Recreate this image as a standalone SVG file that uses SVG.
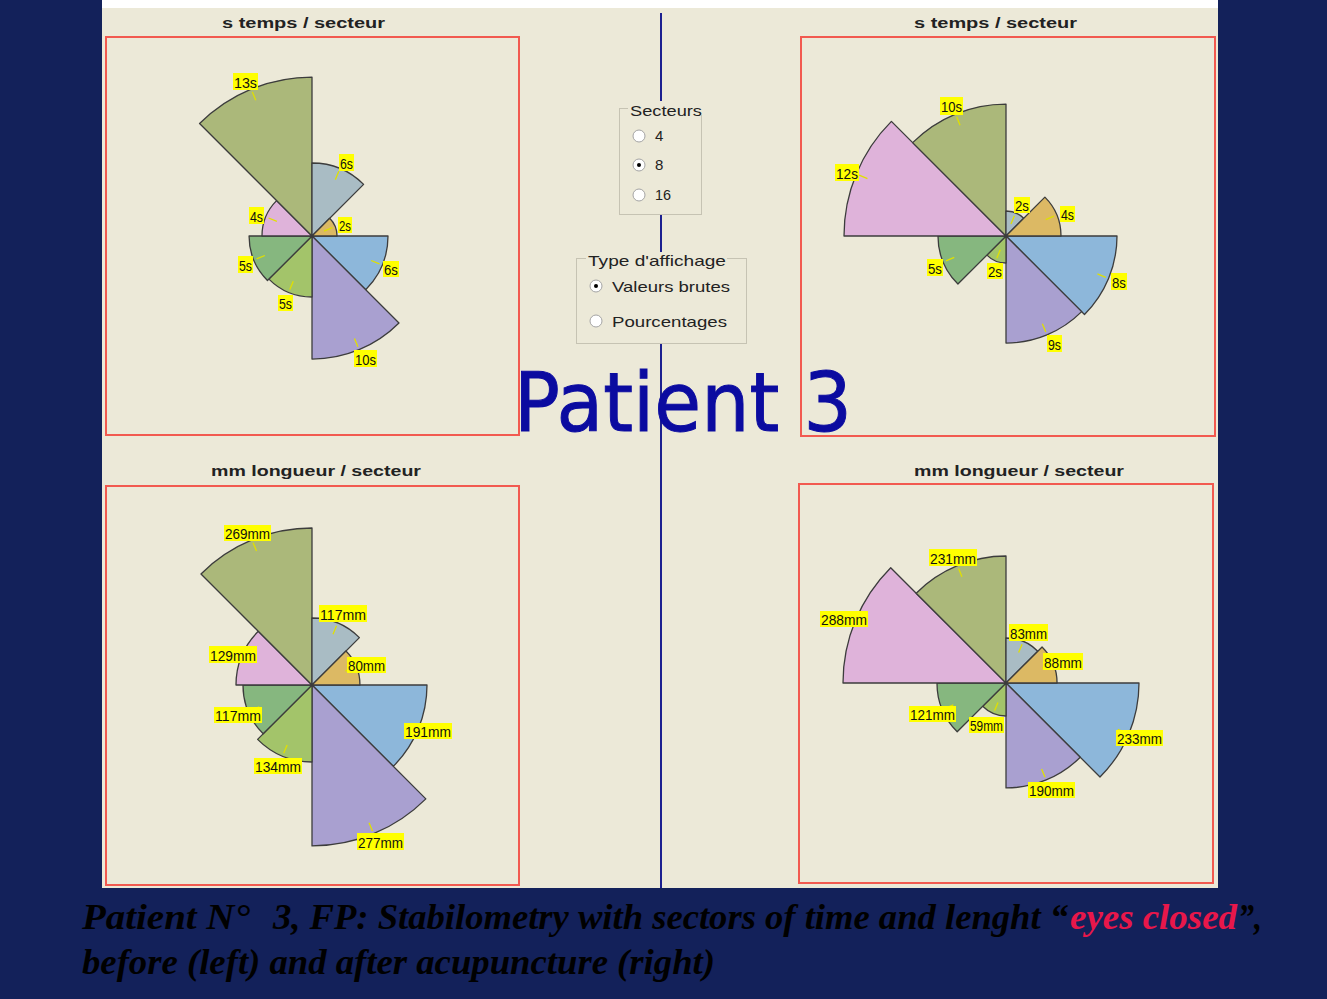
<svg xmlns="http://www.w3.org/2000/svg" width="1327" height="999" viewBox="0 0 1327 999">
<defs>
<style>
.s{stroke:#3c3c3c;stroke-width:1.3;stroke-linejoin:round}
.c1{fill:#8DB7DA}.c2{fill:#A9A0D0}.c3{fill:#A3C46A}.c4{fill:#86B77F}.c5{fill:#DFB3DA}.c6{fill:#ABB87A}.c7{fill:#A9BCC4}.c8{fill:#DCB964}
.frame{fill:none;stroke:#F25A50;stroke-width:2}
.ttl{font-family:"Liberation Sans",Arial,sans-serif;font-weight:bold;font-size:14px;fill:#222}
.lb rect{fill:#FFFF00}
.lb text{font-family:"Liberation Sans",Arial,sans-serif;font-size:15.5px;fill:#111}
.tk{stroke:#E0E000;stroke-width:1.3}
.gb{fill:#ECE9D8;stroke:#C6C3B3;stroke-width:1}
.ui{font-family:"Liberation Sans",Arial,sans-serif;font-size:15px;fill:#222}
.rd{fill:#fff;stroke:#A4A4A4;stroke-width:1}
.cap{font-family:"Liberation Serif","Times New Roman",serif;font-style:italic;font-weight:bold;font-size:35px;fill:#000}
</style>
</defs>
<rect x="0" y="0" width="1327" height="999" fill="#13215A"/>
<rect x="102" y="0" width="1116" height="8" fill="#FFFFFF"/>
<rect x="102" y="8" width="1116" height="880" fill="#ECE9D8"/>
<line x1="661" y1="13" x2="661" y2="888" stroke="#1C2090" stroke-width="2"/>

<!-- Top-left chart -->
<g id="chart-time-before">
<text class="ttl" x="222" y="28" textLength="163" lengthAdjust="spacingAndGlyphs">s temps / secteur</text>
<rect class="frame" x="106" y="37" width="413" height="398"/>
<g transform="translate(312,236)">
<path class="s c1" d="M0,0H76A76,76 0 0 1 53.7,53.7Z"/>
<path class="s c2" transform="rotate(45)" d="M0,0H123A123,123 0 0 1 87,87Z"/>
<path class="s c3" transform="rotate(90)" d="M0,0H61A61,61 0 0 1 43.1,43.1Z"/>
<path class="s c4" transform="rotate(135)" d="M0,0H63A63,63 0 0 1 44.5,44.5Z"/>
<path class="s c5" transform="rotate(180)" d="M0,0H50A50,50 0 0 1 35.4,35.4Z"/>
<path class="s c6" transform="rotate(225)" d="M0,0H159A159,159 0 0 1 112.4,112.4Z"/>
<path class="s c7" transform="rotate(270)" d="M0,0H73A73,73 0 0 1 51.6,51.6Z"/>
<path class="s c8" transform="rotate(315)" d="M0,0H25A25,25 0 0 1 17.7,17.7Z"/>
<line class="tk" x1="64" x2="73" transform="rotate(22.5)"/>
<line class="tk" x1="111" x2="120" transform="rotate(67.5)"/>
<line class="tk" x1="49" x2="58" transform="rotate(112.5)"/>
<line class="tk" x1="51" x2="60" transform="rotate(157.5)"/>
<line class="tk" x1="38" x2="47" transform="rotate(202.5)"/>
<line class="tk" x1="147" x2="156" transform="rotate(247.5)"/>
<line class="tk" x1="61" x2="70" transform="rotate(292.5)"/>
<line class="tk" x1="13" x2="22" transform="rotate(337.5)"/>
</g>
<g class="lb">
<rect x="233" y="73" width="25" height="17"/><text x="234" y="87.5" textLength="23" lengthAdjust="spacingAndGlyphs">13s</text>
<rect x="339" y="154" width="15" height="17"/><text x="340" y="168.5" textLength="13" lengthAdjust="spacingAndGlyphs">6s</text>
<rect x="249" y="207" width="15" height="17"/><text x="250" y="221.5" textLength="13" lengthAdjust="spacingAndGlyphs">4s</text>
<rect x="338" y="217" width="14" height="16"/><text x="339" y="231" textLength="12" lengthAdjust="spacingAndGlyphs">2s</text>
<rect x="238" y="256" width="15" height="17"/><text x="239" y="270.5" textLength="13" lengthAdjust="spacingAndGlyphs">5s</text>
<rect x="383" y="261" width="16" height="16"/><text x="384" y="275" textLength="14" lengthAdjust="spacingAndGlyphs">6s</text>
<rect x="278" y="295" width="15" height="16"/><text x="279" y="309" textLength="13" lengthAdjust="spacingAndGlyphs">5s</text>
<rect x="354" y="350" width="23" height="17"/><text x="355" y="364.5" textLength="21" lengthAdjust="spacingAndGlyphs">10s</text>
</g>
</g>

<!-- Top-right chart -->
<g id="chart-time-after">
<text class="ttl" x="914" y="28" textLength="163" lengthAdjust="spacingAndGlyphs">s temps / secteur</text>
<rect class="frame" x="801" y="37" width="414" height="399"/>
<g transform="translate(1006,236)">
<path class="s c1" d="M0,0H111A111,111 0 0 1 78.5,78.5Z"/>
<path class="s c2" transform="rotate(45)" d="M0,0H107A107,107 0 0 1 75.7,75.7Z"/>
<path class="s c3" transform="rotate(90)" d="M0,0H27A27,27 0 0 1 19.1,19.1Z"/>
<path class="s c4" transform="rotate(135)" d="M0,0H68A68,68 0 0 1 48.1,48.1Z"/>
<path class="s c5" transform="rotate(180)" d="M0,0H162A162,162 0 0 1 114.6,114.6Z"/>
<path class="s c6" transform="rotate(225)" d="M0,0H132A132,132 0 0 1 93.3,93.3Z"/>
<path class="s c7" transform="rotate(270)" d="M0,0H25A25,25 0 0 1 17.7,17.7Z"/>
<path class="s c8" transform="rotate(315)" d="M0,0H55A55,55 0 0 1 38.9,38.9Z"/>
<line class="tk" x1="99" x2="108" transform="rotate(22.5)"/>
<line class="tk" x1="95" x2="104" transform="rotate(67.5)"/>
<line class="tk" x1="15" x2="24" transform="rotate(112.5)"/>
<line class="tk" x1="56" x2="65" transform="rotate(157.5)"/>
<line class="tk" x1="150" x2="159" transform="rotate(202.5)"/>
<line class="tk" x1="120" x2="129" transform="rotate(247.5)"/>
<line class="tk" x1="13" x2="22" transform="rotate(292.5)"/>
<line class="tk" x1="43" x2="52" transform="rotate(337.5)"/>
</g>
<g class="lb">
<rect x="940" y="97" width="23" height="18"/><text x="941" y="111.5" textLength="21" lengthAdjust="spacingAndGlyphs">10s</text>
<rect x="835" y="164" width="24" height="17"/><text x="836" y="178.5" textLength="22" lengthAdjust="spacingAndGlyphs">12s</text>
<rect x="1014" y="197" width="16" height="16"/><text x="1015" y="211" textLength="14" lengthAdjust="spacingAndGlyphs">2s</text>
<rect x="1060" y="206" width="15" height="16"/><text x="1061" y="220" textLength="13" lengthAdjust="spacingAndGlyphs">4s</text>
<rect x="927" y="259" width="16" height="17"/><text x="928" y="273.5" textLength="14" lengthAdjust="spacingAndGlyphs">5s</text>
<rect x="987" y="263" width="16" height="16"/><text x="988" y="277" textLength="14" lengthAdjust="spacingAndGlyphs">2s</text>
<rect x="1111" y="273" width="16" height="17"/><text x="1112" y="287.5" textLength="14" lengthAdjust="spacingAndGlyphs">8s</text>
<rect x="1047" y="335" width="15" height="17"/><text x="1048" y="349.5" textLength="13" lengthAdjust="spacingAndGlyphs">9s</text>
</g>
</g>

<!-- Bottom-left chart -->
<g id="chart-length-before">
<text class="ttl" x="211" y="476" textLength="210" lengthAdjust="spacingAndGlyphs">mm longueur / secteur</text>
<rect class="frame" x="106" y="486" width="413" height="399"/>
<g transform="translate(312,685)">
<path class="s c1" d="M0,0H115A115,115 0 0 1 81.3,81.3Z"/>
<path class="s c2" transform="rotate(45)" d="M0,0H161A161,161 0 0 1 113.8,113.8Z"/>
<path class="s c3" transform="rotate(90)" d="M0,0H77A77,77 0 0 1 54.4,54.4Z"/>
<path class="s c4" transform="rotate(135)" d="M0,0H69A69,69 0 0 1 48.8,48.8Z"/>
<path class="s c5" transform="rotate(180)" d="M0,0H76A76,76 0 0 1 53.7,53.7Z"/>
<path class="s c6" transform="rotate(225)" d="M0,0H157A157,157 0 0 1 111,111Z"/>
<path class="s c7" transform="rotate(270)" d="M0,0H67A67,67 0 0 1 47.4,47.4Z"/>
<path class="s c8" transform="rotate(315)" d="M0,0H48A48,48 0 0 1 33.9,33.9Z"/>
<line class="tk" x1="103" x2="112" transform="rotate(22.5)"/>
<line class="tk" x1="149" x2="158" transform="rotate(67.5)"/>
<line class="tk" x1="65" x2="74" transform="rotate(112.5)"/>
<line class="tk" x1="57" x2="66" transform="rotate(157.5)"/>
<line class="tk" x1="64" x2="73" transform="rotate(202.5)"/>
<line class="tk" x1="145" x2="154" transform="rotate(247.5)"/>
<line class="tk" x1="55" x2="64" transform="rotate(292.5)"/>
<line class="tk" x1="36" x2="45" transform="rotate(337.5)"/>
</g>
<g class="lb">
<rect x="224" y="525" width="47" height="16"/><text x="225" y="539" textLength="45" lengthAdjust="spacingAndGlyphs">269mm</text>
<rect x="319" y="605" width="48" height="17"/><text x="320" y="619.5" textLength="46" lengthAdjust="spacingAndGlyphs">117mm</text>
<rect x="209" y="646" width="48" height="17"/><text x="210" y="660.5" textLength="46" lengthAdjust="spacingAndGlyphs">129mm</text>
<rect x="347" y="657" width="39" height="16"/><text x="348" y="671" textLength="37" lengthAdjust="spacingAndGlyphs">80mm</text>
<rect x="214" y="707" width="48" height="16"/><text x="215" y="721" textLength="46" lengthAdjust="spacingAndGlyphs">117mm</text>
<rect x="404" y="723" width="48" height="16"/><text x="405" y="737" textLength="46" lengthAdjust="spacingAndGlyphs">191mm</text>
<rect x="254" y="758" width="48" height="16"/><text x="255" y="772" textLength="46" lengthAdjust="spacingAndGlyphs">134mm</text>
<rect x="357" y="833" width="47" height="17"/><text x="358" y="847.5" textLength="45" lengthAdjust="spacingAndGlyphs">277mm</text>
</g>
</g>

<!-- Bottom-right chart -->
<g id="chart-length-after">
<text class="ttl" x="914" y="476" textLength="210" lengthAdjust="spacingAndGlyphs">mm longueur / secteur</text>
<rect class="frame" x="799" y="484" width="414" height="399"/>
<g transform="translate(1006,683)">
<path class="s c1" d="M0,0H133A133,133 0 0 1 94,94Z"/>
<path class="s c2" transform="rotate(45)" d="M0,0H105A105,105 0 0 1 74.2,74.2Z"/>
<path class="s c3" transform="rotate(90)" d="M0,0H33A33,33 0 0 1 23.3,23.3Z"/>
<path class="s c4" transform="rotate(135)" d="M0,0H69A69,69 0 0 1 48.8,48.8Z"/>
<path class="s c5" transform="rotate(180)" d="M0,0H163A163,163 0 0 1 115.3,115.3Z"/>
<path class="s c6" transform="rotate(225)" d="M0,0H127A127,127 0 0 1 89.8,89.8Z"/>
<path class="s c7" transform="rotate(270)" d="M0,0H45A45,45 0 0 1 31.8,31.8Z"/>
<path class="s c8" transform="rotate(315)" d="M0,0H51A51,51 0 0 1 36.1,36.1Z"/>
<line class="tk" x1="121" x2="130" transform="rotate(22.5)"/>
<line class="tk" x1="93" x2="102" transform="rotate(67.5)"/>
<line class="tk" x1="21" x2="30" transform="rotate(112.5)"/>
<line class="tk" x1="57" x2="66" transform="rotate(157.5)"/>
<line class="tk" x1="151" x2="160" transform="rotate(202.5)"/>
<line class="tk" x1="115" x2="124" transform="rotate(247.5)"/>
<line class="tk" x1="33" x2="42" transform="rotate(292.5)"/>
<line class="tk" x1="39" x2="48" transform="rotate(337.5)"/>
</g>
<g class="lb">
<rect x="929" y="549" width="48" height="17"/><text x="930" y="563.5" textLength="46" lengthAdjust="spacingAndGlyphs">231mm</text>
<rect x="820" y="611" width="48" height="16"/><text x="821" y="625" textLength="46" lengthAdjust="spacingAndGlyphs">288mm</text>
<rect x="1009" y="624" width="39" height="17"/><text x="1010" y="638.5" textLength="37" lengthAdjust="spacingAndGlyphs">83mm</text>
<rect x="1043" y="653" width="40" height="17"/><text x="1044" y="667.5" textLength="38" lengthAdjust="spacingAndGlyphs">88mm</text>
<rect x="909" y="706" width="47" height="16"/><text x="910" y="720" textLength="45" lengthAdjust="spacingAndGlyphs">121mm</text>
<rect x="969" y="717" width="35" height="16"/><text x="970" y="731" textLength="33" lengthAdjust="spacingAndGlyphs">59mm</text>
<rect x="1116" y="730" width="47" height="16"/><text x="1117" y="744" textLength="45" lengthAdjust="spacingAndGlyphs">233mm</text>
<rect x="1028" y="782" width="47" height="16"/><text x="1029" y="796" textLength="45" lengthAdjust="spacingAndGlyphs">190mm</text>
</g>
</g>

<!-- Controls -->
<g id="secteurs-box">
<rect class="gb" x="619.5" y="108.5" width="82" height="106"/>
<rect x="628" y="101" width="74" height="14" fill="#ECE9D8"/>
<text class="ui" x="630" y="116" textLength="72" lengthAdjust="spacingAndGlyphs">Secteurs</text>
<circle class="rd" cx="639" cy="136" r="6"/><text class="ui" x="655" y="141">4</text>
<circle class="rd" cx="639" cy="165" r="6"/><circle cx="639" cy="165" r="2" fill="#000"/><text class="ui" x="655" y="170">8</text>
<circle class="rd" cx="639" cy="195" r="6"/><text class="ui" x="655" y="200" textLength="16" lengthAdjust="spacingAndGlyphs">16</text>
</g>
<g id="affichage-box">
<rect class="gb" x="576.5" y="258.5" width="170" height="85"/>
<rect x="586" y="252" width="141" height="14" fill="#ECE9D8"/>
<text class="ui" x="588" y="266" textLength="138" lengthAdjust="spacingAndGlyphs">Type d'affichage</text>
<circle class="rd" cx="596" cy="286" r="6"/><circle cx="596" cy="286" r="2" fill="#000"/>
<text class="ui" x="612" y="292" textLength="118" lengthAdjust="spacingAndGlyphs">Valeurs brutes</text>
<circle class="rd" cx="596" cy="321" r="6"/>
<text class="ui" x="612" y="327" textLength="115" lengthAdjust="spacingAndGlyphs">Pourcentages</text>
</g>

<g id="patient-title">
<text x="514" y="431" font-family="DejaVu Sans, sans-serif" font-size="82" fill="#0B0BA0" stroke="#0B0BA0" stroke-width="1" textLength="338" lengthAdjust="spacingAndGlyphs">Patient 3</text>
</g>

<g id="caption">
<text class="cap" x="82" y="929" textLength="168" lengthAdjust="spacingAndGlyphs">Patient N°</text>
<text class="cap" x="273" y="929" textLength="795" lengthAdjust="spacingAndGlyphs">3, FP: Stabilometry with sectors of time and lenght “</text>
<text class="cap" x="1070" y="929" textLength="167" lengthAdjust="spacingAndGlyphs" style="fill:#E8174A">eyes closed</text>
<text class="cap" x="1238" y="929" textLength="24" lengthAdjust="spacingAndGlyphs">”,</text>
<text class="cap" x="82" y="974" textLength="633" lengthAdjust="spacingAndGlyphs">before (left) and after acupuncture (right)</text>
</g>
</svg>
